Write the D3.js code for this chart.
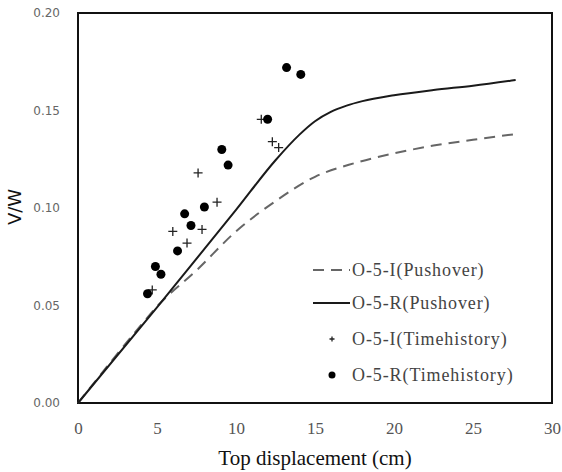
<!DOCTYPE html>
<html>
<head>
<meta charset="utf-8">
<script src="https://cdn.jsdelivr.net/npm/d3@7"></script>
<style>
body { margin: 0; background: #fff; }
svg { display: block; }
</style>
</head>
<body>
<div id="chart"></div>
<script>
// pushover curves (top displacement cm, V/W)
var pushoverR = [[0,0],[5,0.049],[10,0.099],[12.5,0.1245],[14,0.1375],[15,0.1445],[16,0.1493],[17,0.1525],[18,0.1548],[20,0.1578],[22.5,0.1605],[25,0.1627],[27.7,0.1656]];
var pushoverI = [[0,0],[4,0.040],[5,0.0495],[7.5,0.068],[10,0.088],[12.5,0.1035],[15,0.1160],[17.5,0.1230],[20,0.1280],[22.5,0.1320],[25,0.1350],[27.8,0.1380]];
// time history peaks
var timeI = [[4.7,0.058],[6.0,0.088],[6.9,0.082],[7.6,0.118],[7.85,0.089],[8.8,0.103],[11.6,0.1455],[12.3,0.134],[12.7,0.131]];
var timeR = [[4.4,0.056],[4.9,0.070],[5.25,0.066],[6.3,0.078],[6.75,0.097],[7.15,0.091],[8.0,0.1005],[9.1,0.130],[9.5,0.122],[12.0,0.1455],[13.2,0.172],[14.1,0.1685]];

var xTicks = [0,5,10,15,20,25,30];
var yTicks = [0,0.05,0.10,0.15,0.20];
var legendNames = ["O-5-I(Pushover)","O-5-R(Pushover)","O-5-I(Timehistory)","O-5-R(Timehistory)"];

var serif = "'Liberation Serif', 'DejaVu Serif', serif";
var width = 562, height = 472;
var margin = {left: 78, top: 13, right: 10, bottom: 69};

var svg = d3.select("#chart").append("svg")
    .attr("width", width)
    .attr("height", height);

var x = d3.scaleLinear().domain([0, 30]).range([margin.left, width - margin.right]);
var y = d3.scaleLinear().domain([0, 0.2]).range([height - margin.bottom, margin.top]);

// axes, labels only
var xAxis = svg.append("g")
    .attr("transform", "translate(0," + y(0) + ")")
    .call(d3.axisBottom(x).tickValues(xTicks).tickSize(0).tickPadding(19).tickFormat(d3.format("d")))
    .attr("font-family", serif)
    .attr("font-size", 17);
xAxis.select(".domain").remove();
xAxis.selectAll("text").attr("fill", "#555");

var yAxis = svg.append("g")
    .attr("transform", "translate(" + x(0) + ",0)")
    .call(d3.axisLeft(y).tickValues(yTicks).tickSize(0).tickPadding(18).tickFormat(d3.format(".2f")))
    .attr("font-family", "'DejaVu Sans', sans-serif")
    .attr("font-size", 12);
yAxis.select(".domain").remove();
yAxis.selectAll("text").attr("fill", "#666");

// plot frame
svg.append("rect")
    .attr("x", x(0)).attr("y", y(0.2))
    .attr("width", x(30) - x(0)).attr("height", y(0) - y(0.2))
    .attr("fill", "none").attr("stroke", "#111").attr("stroke-width", 2);

var line = d3.line()
    .x(function (d) { return x(d[0]); })
    .y(function (d) { return y(d[1]); })
    .curve(d3.curveMonotoneX);

svg.append("path")
    .attr("d", line(pushoverI))
    .attr("fill", "none").attr("stroke", "#666").attr("stroke-width", 2)
    .attr("stroke-dasharray", "11,7");

svg.append("path")
    .attr("d", line(pushoverR))
    .attr("fill", "none").attr("stroke", "#1a1a1a").attr("stroke-width", 2);

function plus(g, cx, cy, s) {
    g.append("path")
        .attr("d", "M" + (cx - s) + "," + cy + "H" + (cx + s) + "M" + cx + "," + (cy - s) + "V" + (cy + s))
        .attr("stroke", "#222").attr("stroke-width", 1.3).attr("fill", "none");
}

var gI = svg.append("g");
timeI.forEach(function (d) { plus(gI, x(d[0]), y(d[1]), 4.5); });

svg.append("g").selectAll("circle").data(timeR).enter().append("circle")
    .attr("cx", function (d) { return x(d[0]); })
    .attr("cy", function (d) { return y(d[1]); })
    .attr("r", 4.5)
    .attr("fill", "#000");

// legend
var lg = svg.append("g");
var rowY = [270, 303, 339, 375];
var textX = 352;
lg.append("line").attr("x1", 313).attr("x2", 350).attr("y1", rowY[0]).attr("y2", rowY[0])
    .attr("stroke", "#666").attr("stroke-width", 2).attr("stroke-dasharray", "11,7");
lg.append("line").attr("x1", 313).attr("x2", 350).attr("y1", rowY[1]).attr("y2", rowY[1])
    .attr("stroke", "#1a1a1a").attr("stroke-width", 2);
plus(lg, 332, rowY[2], 2.5);
lg.append("circle").attr("cx", 332).attr("cy", rowY[3]).attr("r", 3.5).attr("fill", "#000");
lg.selectAll("text.leg").data(legendNames).enter().append("text")
    .attr("class", "leg")
    .attr("x", textX)
    .attr("y", function (d, i) { return rowY[i]; })
    .attr("dy", "0.35em")
    .attr("fill", "#444")
    .attr("font-family", serif)
    .attr("font-size", 18)
    .attr("letter-spacing", 0.9)
    .text(function (d) { return d; });

// axis titles
svg.append("text")
    .attr("x", 315).attr("y", 465)
    .attr("text-anchor", "middle")
    .attr("fill", "#111")
    .attr("font-family", serif)
    .attr("font-size", 21)
    .text("Top displacement (cm)");

svg.append("text")
    .attr("transform", "translate(21,207) rotate(-90)")
    .attr("text-anchor", "middle")
    .attr("fill", "#111")
    .attr("font-family", "'DejaVu Sans', sans-serif")
    .attr("font-size", 18)
    .text("V/W");
</script>
</body>
</html>
